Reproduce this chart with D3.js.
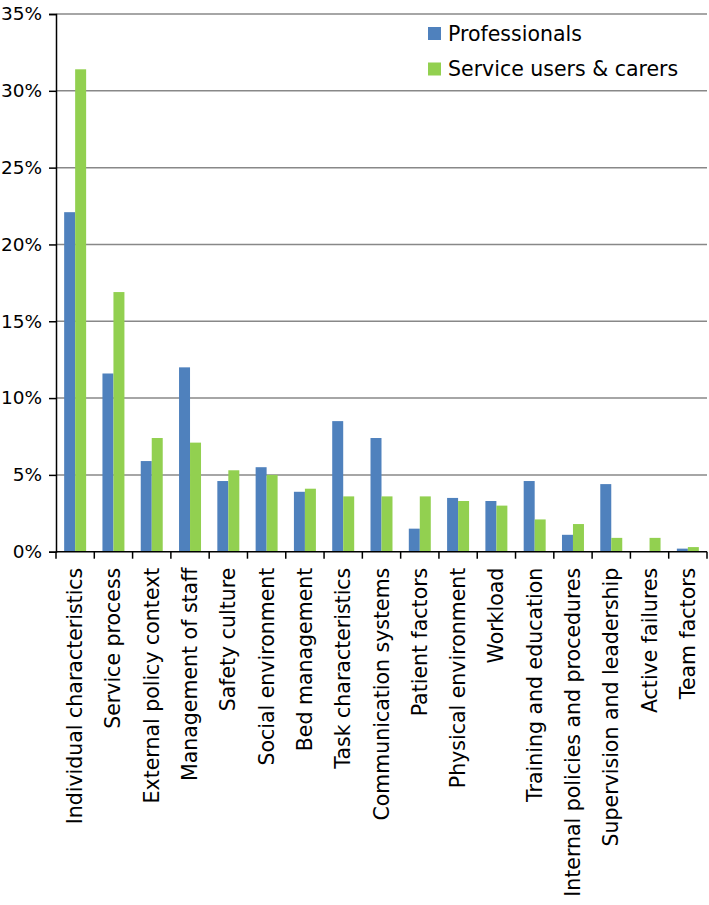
<!DOCTYPE html>
<html><head><meta charset="utf-8">
<script src="https://cdn.jsdelivr.net/npm/d3@7/dist/d3.min.js"></script>
<style>body{margin:0;background:#fff}svg{display:block}</style>
</head><body>
<svg id="c" width="709" height="905"></svg>
<script>
const categories = ["Individual characteristics","Service process","External policy context","Management of staff","Safety culture","Social environment","Bed management","Task characteristics","Communication systems","Patient factors","Physical environment","Workload","Training and education","Internal policies and procedures","Supervision and leadership","Active failures","Team factors"];
const professionals = [22.1,11.6,5.9,12.0,4.6,5.5,3.9,8.5,7.4,1.5,3.5,3.3,4.6,1.1,4.4,0,0.2];
const serviceUsers = [31.4,16.9,7.4,7.1,5.3,5.0,4.1,3.6,3.6,3.6,3.3,3.0,2.1,1.8,0.9,0.9,0.3];
const seriesNames = ["Professionals","Service users & carers"];
const seriesColors = ["#4F81BD","#92D050"];
const yTicks = [0,5,10,15,20,25,30,35];

const svg = d3.select("#c");
const font = "'DejaVu Sans', Verdana, sans-serif";
const L = 56, R = 707, T = 14, B = 551.7;
const x = d3.scaleBand().domain(categories).range([L, R]).padding(0);
const bw = x.bandwidth();
const xs = d3.scaleBand().domain(seriesNames).range([bw*0.213, bw*0.787]).padding(0);
const y = d3.scaleLinear().domain([0,35]).range([B, T]);

// gridlines
svg.append("g").selectAll("line").data(yTicks.filter(d=>d>0)).join("line")
  .attr("x1", L).attr("x2", R).attr("y1", d=>y(d)).attr("y2", d=>y(d))
  .attr("stroke", "#888888").attr("stroke-width", 1.5);

// bars
const data = categories.map((c,i)=>({c, vals:[professionals[i], serviceUsers[i]]}));
const g = svg.append("g").selectAll("g").data(data).join("g")
  .attr("transform", d=>`translate(${x(d.c)},0)`);
g.selectAll("rect").data(d=>d.vals.map((v,j)=>({v, s:seriesNames[j], j}))).join("rect")
  .attr("x", d=>xs(d.s)).attr("width", xs.bandwidth())
  .attr("y", d=>y(d.v)).attr("height", d=>B - y(d.v))
  .attr("fill", d=>seriesColors[d.j]);

// y axis
const yAxis = d3.axisLeft(y).tickValues(yTicks).tickFormat(d=>d+"%").tickSize(7).tickPadding(7);
const ya = svg.append("g").attr("transform", `translate(${L},0)`).call(yAxis);
ya.select(".domain").attr("stroke","#000").attr("stroke-width",1.5);
ya.selectAll(".tick line").attr("stroke","#000").attr("stroke-width",1.5);
ya.selectAll(".tick text").attr("font-family", font).attr("font-size", "18.5px").attr("fill","#000");

// x axis line and boundary ticks
svg.append("line").attr("x1", L).attr("x2", R).attr("y1", B).attr("y2", B).attr("stroke","#000").attr("stroke-width",1.5);
const bounds = categories.map(c=>x(c)).concat([R]);
svg.append("g").selectAll("line").data(bounds).join("line")
  .attr("x1", d=>d).attr("x2", d=>d).attr("y1", B).attr("y2", B+7)
  .attr("stroke","#000").attr("stroke-width",1.5);

// category labels
svg.append("g").selectAll("text").data(categories).join("text")
  .attr("transform", d=>`translate(${x(d)+bw/2+7},${B+16}) rotate(-90)`)
  .attr("text-anchor","end")
  .attr("font-family", font).attr("font-size","20.5px").attr("fill","#000")
  .text(d=>d);

// legend
const lg = svg.append("g").selectAll("g").data(seriesNames).join("g")
  .attr("transform", (d,i)=>`translate(428,${40.5 + i*35.5})`);
lg.append("rect").attr("x",0).attr("y",-13.5).attr("width",13).attr("height",13)
  .attr("fill",(d,i)=>seriesColors[i]);
lg.append("text").attr("x",20).attr("y",0)
  .attr("font-family", font).attr("font-size","20.5px").attr("fill","#000").text(d=>d);
</script>
</body></html>
